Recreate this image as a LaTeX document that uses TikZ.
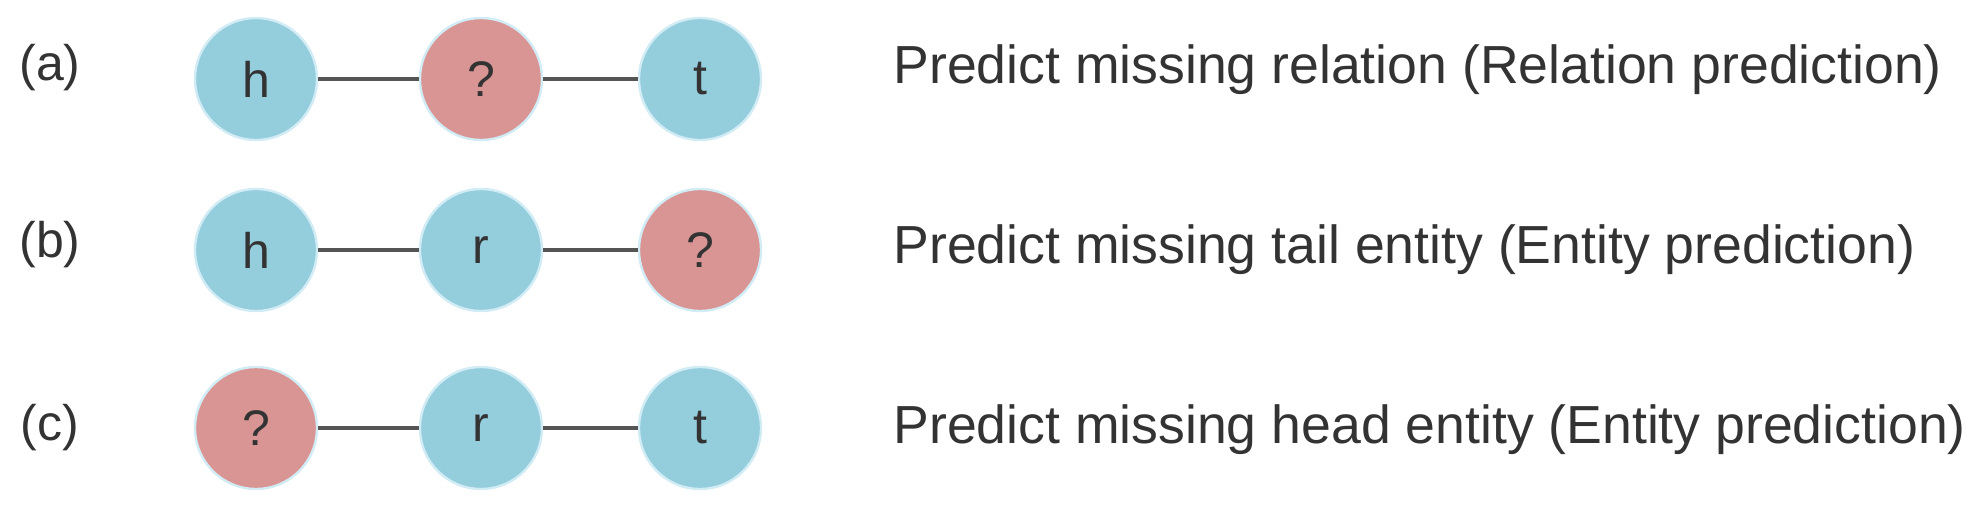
\documentclass[tikz,border=0pt]{standalone}
\usepackage{fontspec}
\setmainfont{Liberation Sans}
\usepackage{tikz}

\definecolor{knownblue}{HTML}{94CDDC}
\definecolor{missred}{HTML}{D99594}
\definecolor{rimblue}{HTML}{D2ECF6}
\definecolor{inkgray}{HTML}{333333}
\definecolor{linkgray}{HTML}{555555}

\tikzset{
  known/.style={circle, draw=rimblue, line width=1.2pt, fill=knownblue, minimum size=61pt, inner sep=0pt, text=inkgray, font=\fontsize{25}{30}\selectfont},
  missing/.style={known, fill=missred},
  link/.style={draw=linkgray, line width=1.7pt},
  tag/.style={text=inkgray, font=\fontsize{25}{30}\selectfont},
  task/.style={anchor=west, inner sep=0pt, text=inkgray, font=\fontsize{26.8}{32}\selectfont}
}

\begin{document}
\begin{tikzpicture}[x=0.5pt, y=-0.5pt]
    \useasboundingbox (0,0) rectangle (1978,504);

    \node [tag] (la) at (50,68) {(a)};
    \node [known] (ha) at (256,79) {h};
    \node [missing] (ra) at (481,79) {?};
    \node [known] (ta) at (700,79) {t};
    \draw [link] (ha) -- (ra);
    \draw [link] (ra) -- (ta);
    \node [task] (pa) at (893,70) {Predict missing relation (Relation prediction)};

    \node [tag] (lb) at (50,245) {(b)};
    \node [known] (hb) at (256,250) {h};
    \node [known] (rb) at (481,250) {r};
    \node [missing] (tb) at (700,250) {?};
    \draw [link] (hb) -- (rb);
    \draw [link] (rb) -- (tb);
    \node [task] (pb) at (893,250) {Predict missing tail entity (Entity prediction)};

    \node [tag] (lc) at (50,428) {(c)};
    \node [missing] (hc) at (256,428) {?};
    \node [known] (rc) at (481,428) {r};
    \node [known] (tc) at (700,428) {t};
    \draw [link] (hc) -- (rc);
    \draw [link] (rc) -- (tc);
    \node [task] (pc) at (893,430) {Predict missing head entity (Entity prediction)};
\end{tikzpicture}
\end{document}
